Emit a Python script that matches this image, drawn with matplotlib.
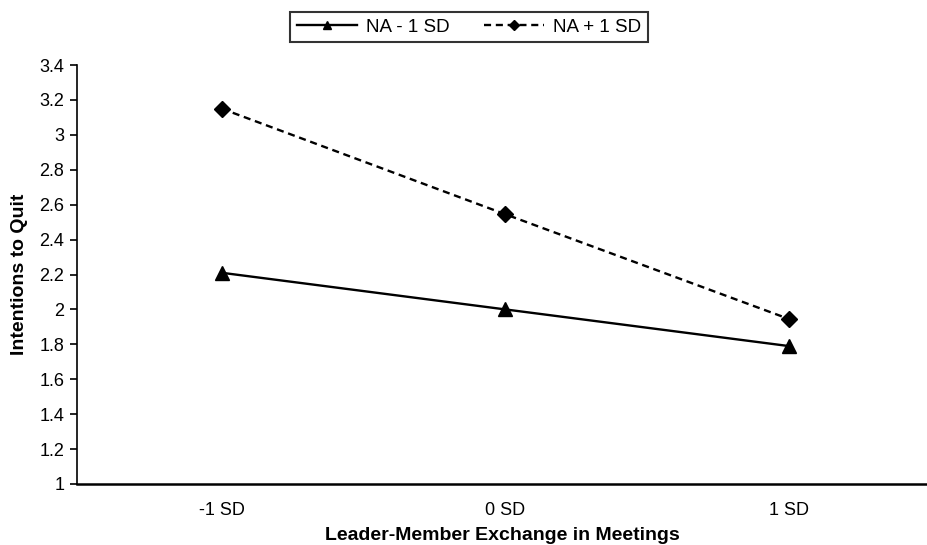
import matplotlib
matplotlib.use("Agg")
import matplotlib.pyplot as plt
from matplotlib.ticker import FuncFormatter

# -----------------------------
# Data
# -----------------------------
categories = ["-1 SD", "0 SD", "1 SD"]
naLow = [2.21, 2.00, 1.79]
naHigh = [3.15, 2.545, 1.945]
yTicks = [1, 1.2, 1.4, 1.6, 1.8, 2, 2.2, 2.4, 2.6, 2.8, 3, 3.2, 3.4]

plt.rcParams["font.family"] = ["Liberation Sans", "DejaVu Sans"]

fig = plt.figure(figsize=(9.28, 5.45), dpi=100)
ax = fig.add_axes([77 / 928, 1 - 484 / 545, 1 - 77 / 928, 419 / 545])

xPos = list(range(len(categories)))
ax.plot(xPos, naLow, color="black", lw=1.7, marker="^", ms=10, label="NA - 1 SD")
ax.plot(xPos, naHigh, color="black", lw=1.7, ls=(0, (3, 2)), marker="D", ms=8,
        label="NA + 1 SD")

ax.set_xlim(-0.51, 2.49)
ax.set_ylim(1, 3.4)
ax.set_yticks(yTicks)
ax.yaxis.set_major_formatter(FuncFormatter(lambda v, p: f"{v:g}"))
ax.set_xticks(xPos)
ax.set_xticklabels(categories)
ax.tick_params(axis="x", length=0, pad=13, labelsize=13)
ax.tick_params(axis="y", length=5, width=1.2, labelsize=13, direction="out", pad=4)

for side in ["top", "right"]:
    ax.spines[side].set_visible(False)
ax.spines["left"].set_linewidth(1.2)
ax.spines["bottom"].set_linewidth(1.8)

ax.set_ylabel("Intentions to Quit", fontsize=14, fontweight="bold", labelpad=8)
ax.set_xlabel("Leader-Member Exchange in Meetings", fontsize=14, fontweight="bold",
              labelpad=6)

legend = fig.legend(loc="center", bbox_to_anchor=(469 / 928, 1 - 27 / 545), ncol=2,
                    frameon=True, fancybox=False, edgecolor="black", fontsize=13.5,
                    handlelength=3.2, handletextpad=0.5, markerscale=0.6,
                    borderpad=0.35, columnspacing=1.8)
legend.get_frame().set_linewidth(1.5)

fig.savefig("out.png", dpi=100)
